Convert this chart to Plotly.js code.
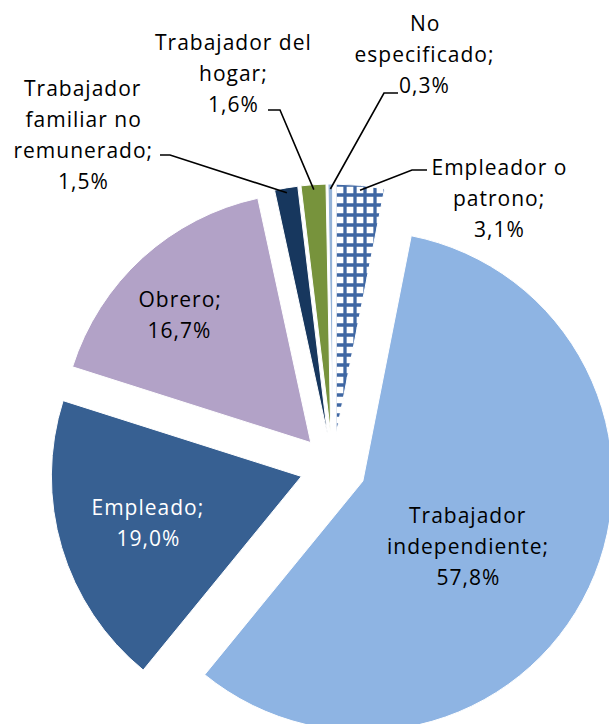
<!DOCTYPE html>
<html>
<head>
<meta charset="utf-8">
<script src="https://cdn.plot.ly/plotly-3.0.1.min.js"></script>
<style>
  html, body { margin: 0; padding: 0; overflow: hidden; background: #fff; }
  #chart { width: 700px; height: 800px; }
  #chart .annotation-text { letter-spacing: 1px; }
</style>
</head>
<body>
<div id="chart"></div>
<script>
// ---- Data ----
const categories = [
  "Empleador o patrono",
  "Trabajador independiente",
  "Empleado",
  "Obrero",
  "Trabajador familiar no remunerado",
  "Trabajador del hogar",
  "No especificado"
];
const values = [3.1, 57.8, 19.0, 16.7, 1.5, 1.6, 0.3];
// Label lines as shown on the chart (value line is appended from values)
const labelLines = [
  ["Empleador o", "patrono;"],
  ["Trabajador", "independiente;"],
  ["Empleado;"],
  ["Obrero;"],
  ["Trabajador", "familiar no", "remunerado;"],
  ["Trabajador del", "hogar;"],
  ["No", "especificado;"]
];

// ---- Styling / layout ----
const colors = ["#ffffff", "#8eb4e3", "#376092", "#b2a2c7", "#17375e", "#77933c", "#95b3d7"];
const textColors = ["#000", "#000", "#fff", "#000", "#000", "#000", "#000"];
// label centre (px) of first line, line step 31px
const labelPos = [
  [499, 167], [468, 515], [148, 507], [180, 299], [83, 88], [233, 42], [425, 23]
];
// leader line elbows (px): [textEndX, textEndY, elbowX] ; null = inside label
const leaders = [
  [427, 170, 412], null, null, null, [160, 155, 170], [268, 110, 280], [398, 93, 384]
];

const W = 700, H = 800;
const CX = 333, CY = 467, R = 250, PULL = 0.132;
const box = 2 * R * (1 + PULL);
const domX = [(CX - box / 2) / W, (CX + box / 2) / W];
const domY = [1 - (CY + box / 2) / H, 1 - (CY - box / 2) / H];

function px(x, y) { return [x / W, 1 - y / H]; }
const fmt = v => v.toFixed(1).replace('.', ',') + '%';

const trace = {
  type: 'pie',
  labels: categories,
  values: values,
  sort: false,
  direction: 'clockwise',
  rotation: 0,
  pull: values.map(() => PULL),
  textinfo: 'none',
  hoverinfo: 'none',
  showlegend: false,
  domain: { x: domX, y: domY },
  marker: {
    colors: colors,
    line: { color: '#ffffff', width: 1 },
    pattern: {
      shape: ['+', '', '', '', '', '', ''],
      fgcolor: '#3f67a3',
      fgopacity: 1,
      bgcolor: '#ffffff',
      fillmode: 'replace',
      size: 10,
      solidity: 0.55
    }
  }
};

const annotations = [];
const shapes = [];
const total = values.reduce((a, b) => a + b, 0);
let cum = 0;
const LINE = 31;
values.forEach((v, i) => {
  const lines = labelLines[i].concat([fmt(v)]);
  lines.forEach((t, j) => {
    const p = px(labelPos[i][0], labelPos[i][1] + j * LINE);
    annotations.push({
      xref: 'paper', yref: 'paper', x: p[0], y: p[1],
      xanchor: 'center', yanchor: 'middle', showarrow: false,
      text: t,
      font: { family: 'Open Sans, sans-serif', size: 21, color: textColors[i] }
    });
  });
  const mid = (cum + v / 2) / total * 2 * Math.PI;
  cum += v;
  if (leaders[i]) {
    const rr = R * (1 + PULL) - 5;
    const ex = CX + rr * Math.sin(mid), ey = CY - rr * Math.cos(mid);
    const a = px(leaders[i][0], leaders[i][1]);
    const b = px(leaders[i][2], leaders[i][1]);
    const c = px(ex, ey);
    shapes.push({
      type: 'path', xref: 'paper', yref: 'paper',
      path: `M ${a[0]} ${a[1]} L ${b[0]} ${b[1]} L ${c[0]} ${c[1]}`,
      line: { color: '#000', width: 1.6 }
    });
  }
});

const layout = {
  width: W, height: H,
  margin: { l: 0, r: 0, t: 0, b: 0 },
  paper_bgcolor: '#fff',
  annotations: annotations,
  shapes: shapes
};

Plotly.newPlot('chart', [trace], layout, { displayModeBar: false, staticPlot: true });
</script>
</body>
</html>
